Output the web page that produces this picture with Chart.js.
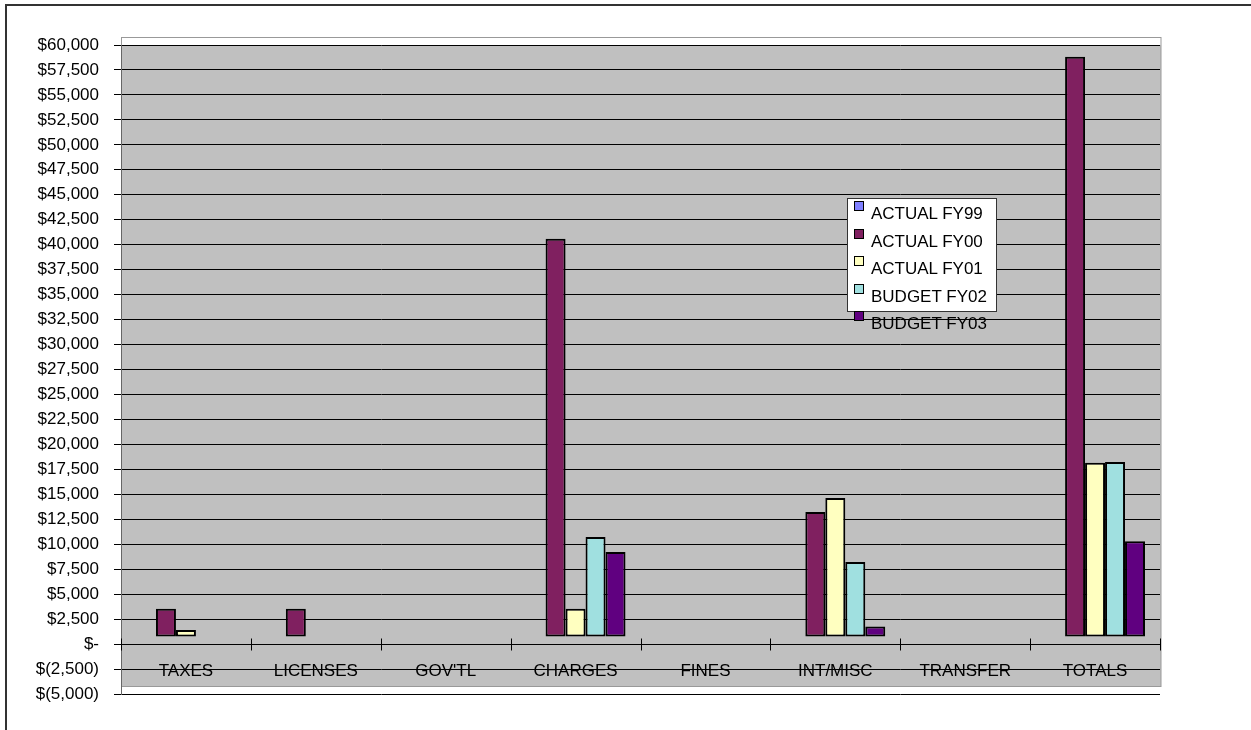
<!DOCTYPE html>
<html>
<head>
<meta charset="utf-8">
<script src="https://cdn.jsdelivr.net/npm/chart.js@4/dist/chart.umd.min.js"></script>
<style>
  body { margin: 0; background: #fff; }
  #wrap { position: relative; width: 1251px; height: 730px; }
  #legend {
    position: absolute; left: 847px; top: 198px; width: 148px; height: 112px;
    background: #fff; border: 1px solid #333;
    font-family: 'Liberation Sans', Arial, sans-serif; font-size: 17px; color: #000;
  }
  #legend .sw { position: absolute; left: 6px; width: 8px; height: 8px; border: 1px solid #000; }
  #legend .tx { position: absolute; left: 23px; line-height: 17px; white-space: nowrap; }
</style>
</head>
<body>
<div id="wrap">
  <canvas id="revChart" width="1251" height="730"></canvas>
  <div id="legend"></div>
</div>
<script>
// revenue by source, dollars
var categories = ['TAXES', 'LICENSES', "GOV'TL", 'CHARGES', 'FINES', 'INT/MISC', 'TRANSFER', 'TOTALS'];
var seriesNames = ['ACTUAL FY99', 'ACTUAL FY00', 'ACTUAL FY01', 'BUDGET FY02', 'BUDGET FY03'];
var actualFY99 = [null, null, null, null, null, null, null, null];
var actualFY00 = [2845, 2845, null, 39900, null, 12520, null, 58110];
var actualFY01 = [705, null, null, 2845, null, 13920, null, 17470];
var budgetFY02 = [null, null, null, 10020, null, 7520, null, 17540];
var budgetFY03 = [null, null, null, 8520, null, 1070, null, 9590];
var yMin = -5000, yMax = 60000, yStep = 2500;

var colors = ['#8080FF', '#802060', '#FFFFC0', '#A0E0E0', '#600080'];
var allData = [actualFY99, actualFY00, actualFY01, budgetFY02, budgetFY03];

var font = "'Liberation Sans', Arial, sans-serif";

function money(v) {
  if (v === 0) return '$-';
  var s = Math.abs(v).toLocaleString('en-US');
  return v < 0 ? '$(' + s + ')' : '$' + s;
}

// gray plot area, outer frame, and the little ticks crossing the zero line
var plotBack = {
  id: 'plotBack',
  beforeDraw: function(chart) {
    var c = chart.ctx, a = chart.chartArea;
    c.save();
    c.fillStyle = '#333';
    c.fillRect(5, 4, 1251, 2);
    c.fillRect(5, 4, 2, 730);
    c.fillStyle = '#C0C0C0';
    c.fillRect(a.left, a.top, a.right - a.left + 1, a.bottom - a.top - 8);
    c.strokeStyle = '#999';
    c.lineWidth = 1;
    c.strokeRect(a.left + 0.5, a.top - 7.5, a.right - a.left + 0.5, a.bottom - a.top);
    c.restore();
  },
  beforeDatasetsDraw: function(chart) {
    var c = chart.ctx, x = chart.scales.x, y0 = Math.round(chart.scales.y.getPixelForValue(0)) + 0.5;
    var n = categories.length, w = (x.right - x.left) / n;
    c.save();
    c.strokeStyle = '#000';
    c.lineWidth = 1;
    c.beginPath();
    for (var i = 0; i <= n; i++) {
      var px = Math.round(x.left + i * w) + 0.5;
      c.moveTo(px, y0 - 6);
      c.lineTo(px, y0 + 6);
    }
    c.stroke();
    c.restore();
    // bars sit a few pixels high in this sheet's rendering
    c.save();
    c.translate(0, -7);
  },
  afterDatasetsDraw: function(chart) {
    chart.ctx.restore();
  }
};

// html legend box
var htmlLegend = {
  id: 'htmlLegend',
  afterUpdate: function(chart) {
    var box = document.getElementById('legend');
    box.innerHTML = '';
    chart.data.datasets.forEach(function(ds, i) {
      var top = 2 + i * 27.6;
      var sw = document.createElement('span');
      sw.className = 'sw';
      sw.style.top = top + 'px';
      sw.style.background = ds.backgroundColor;
      var tx = document.createElement('span');
      tx.className = 'tx';
      tx.style.top = (top + 4) + 'px';
      tx.textContent = ds.label;
      box.appendChild(sw);
      box.appendChild(tx);
    });
  }
};

var datasets = seriesNames.map(function(name, i) {
  return {
    label: name,
    data: allData[i],
    backgroundColor: colors[i],
    borderColor: '#000',
    borderWidth: 2,
    borderSkipped: false,
    categoryPercentage: 100 / 130,
    barPercentage: 1.0
  };
});

var ctx = document.getElementById('revChart');
var revChart = new Chart(ctx, {
  type: 'bar',
  data: { labels: categories, datasets: datasets },
  options: {
    responsive: false,
    animation: false,
    layout: { padding: { left: 0, top: 45, right: 91, bottom: 36 } },
    plugins: {
      legend: { display: false },
      tooltip: { enabled: false }
    },
    scales: {
      x: {
        position: { y: 0 },
        offset: true,
        grid: { display: false, drawTicks: false },
        border: { display: false },
        ticks: {
          color: '#000',
          font: { family: font, size: 17 },
          padding: 17,
          maxRotation: 0,
          autoSkip: false
        }
      },
      y: {
        min: yMin,
        max: yMax,
        afterFit: function(scale) { scale.width = 121; },
        grid: { color: '#000', lineWidth: 1, tickLength: 7, tickColor: '#000' },
        border: { display: true, color: '#666', width: 1 },
        ticks: {
          stepSize: yStep,
          color: '#000',
          font: { family: font, size: 17 },
          padding: 15,
          callback: function(v) { return money(v); }
        }
      }
    }
  },
  plugins: [plotBack, htmlLegend]
});
</script>
</body>
</html>
